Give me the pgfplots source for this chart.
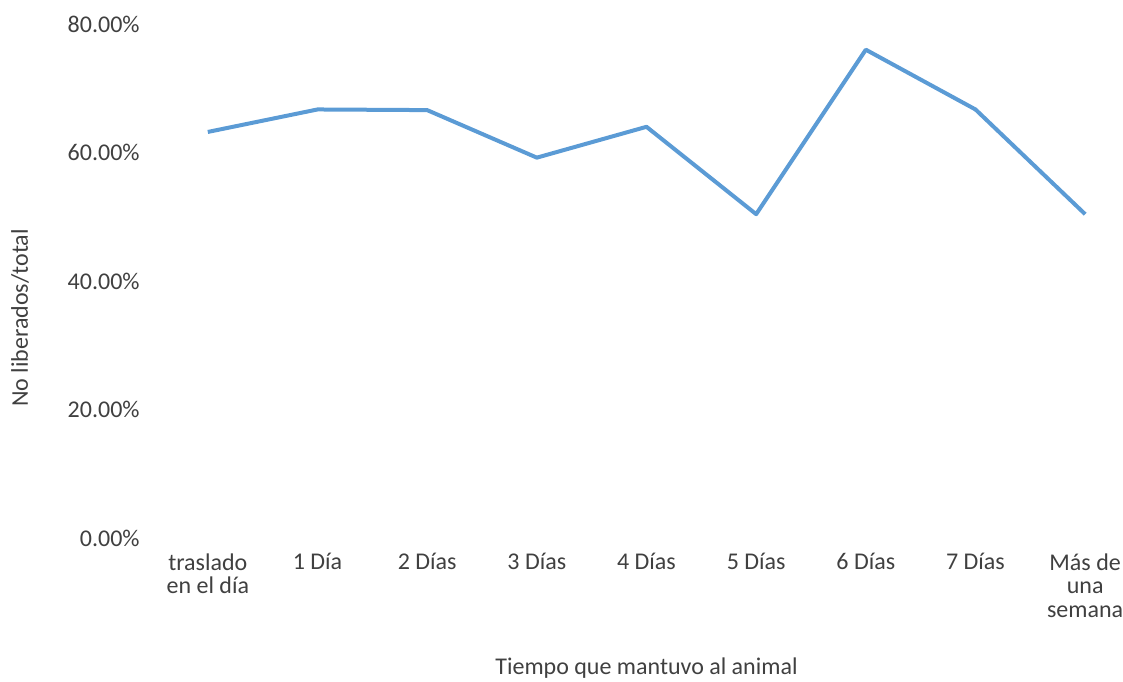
\documentclass[border=0pt]{standalone}
\usepackage{pgfplots}
\pgfplotsset{compat=1.18}
\usepackage{fontspec}
\setmainfont{Carlito}
\definecolor{lineblue}{HTML}{5B9BD5}
\definecolor{txt}{HTML}{404040}
\begin{document}
\begin{tikzpicture}
\useasboundingbox (-76.5pt,-71.5pt) rectangle (485pt,269pt);
\begin{axis}[
  at={(0,0)}, anchor=south west,
  scale only axis, width=493.5pt, height=257pt,
  xmin=-0.5, xmax=8.5, ymin=0, ymax=80,
  axis line style={draw=none},
  major tick length=0pt,
  ytick={0,20,40,60,80},
  xtick={0,1,2,3,4,5,6,7,8},
  xticklabels={{traslado\\en el día},{1 Día},{2 Días},{3 Días},{4 Días},{5 Días},{6 Días},{7 Días},{Más de\\una\\semana}},
  /pgf/number format/assume math mode=true,
  yticklabel={\pgfmathprintnumber[fixed,fixed zerofill,precision=2]{\tick}\%},
  every tick label/.append style={font=\fontsize{12}{11.8}\selectfont, text=txt},
  yticklabel style={anchor=east, inner sep=0pt, xshift=-6.5pt},
  xticklabel style={anchor=north, align=center, inner sep=0pt, yshift=-7.5pt},
  xlabel={Tiempo que mantuvo al animal},
  ylabel={No liberados/total},
  every axis x label/.style={at={(axis description cs:0.5,-0.2529)}, anchor=center, font=\fontsize{12}{12}\selectfont, text=txt},
  every axis y label/.style={at={(axis description cs:-0.1348,0.428)}, anchor=center, rotate=90, font=\fontsize{12}{12}\selectfont, text=txt},
  clip=false,
]
\addplot[lineblue, line width=2pt, line join=round] coordinates {
  (0,63.2) (1,66.7) (2,66.6) (3,59.2) (4,64.0) (5,50.4) (6,76.0) (7,66.7) (8,50.4)
};
\end{axis}
\end{tikzpicture}
\end{document}
